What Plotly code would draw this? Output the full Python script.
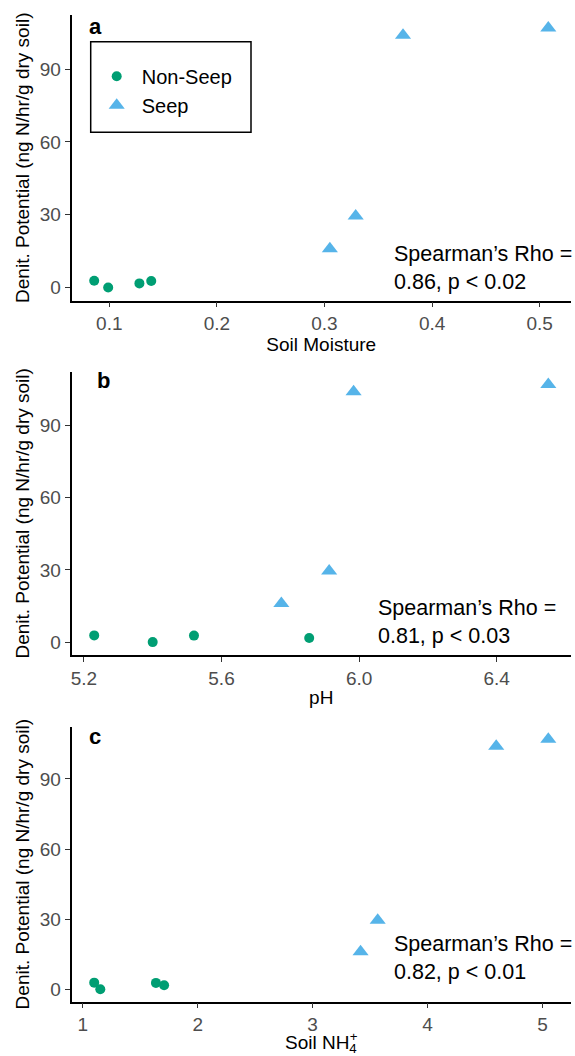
import plotly.graph_objects as go

FONT = "Liberation Sans, Arial, Helvetica, sans-serif"
W, H = 575, 1056

# Denitrification potential (ng N/hr/g dry soil) per site group
denit_nonseep = [2.8, 0.0, 2.7, 1.7]
denit_seep = [16.0, 29.5, 104.0, 107.0]

# Soil properties for the same samples
moisture_nonseep = [0.086, 0.099, 0.139, 0.128]
moisture_seep = [0.305, 0.329, 0.373, 0.508]
ph_nonseep = [5.23, 5.40, 5.52, 5.855]
ph_seep = [5.774, 5.913, 5.984, 6.55]
nh4_nonseep = [1.10, 1.153, 1.637, 1.708]
nh4_seep = [3.417, 3.566, 4.597, 5.05]

group_names = ["Non-Seep", "Seep"]
y_ticks = [0, 30, 60, 90]
x_ticks = [
    [0.1, 0.2, 0.3, 0.4, 0.5],
    [5.2, 5.6, 6.0, 6.4],
    [1, 2, 3, 4, 5],
]
x_tick_labels = [
    ["0.1", "0.2", "0.3", "0.4", "0.5"],
    ["5.2", "5.6", "6.0", "6.4"],
    ["1", "2", "3", "4", "5"],
]
panel_labels = ["a", "b", "c"]
x_titles = [
    "Soil Moisture",
    "pH",
    "Soil NH<sub style=\"letter-spacing:-7px\">4</sub><sup>+</sup>",
]
y_title = "Denit. Potential (ng N/hr/g dry soil)"
rho_texts = [
    "Spearman’s Rho =<br>0.86, p &lt; 0.02",
    "Spearman’s Rho =<br>0.81, p &lt; 0.03",
    "Spearman’s Rho =<br>0.82, p &lt; 0.01",
]

GREEN = "#009E73"
BLUE = "#56B4E9"

panels = [
    (moisture_nonseep, moisture_seep),
    (ph_nonseep, ph_seep),
    (nh4_nonseep, nh4_seep),
]

# panel boxes in pixels: (left, right, top, bottom)
boxes = [
    (71.5, 571, 15, 300.5),
    (71.5, 571, 371.7, 655),
    (71.5, 571, 726.7, 1001.7),
]
letter_pos = [(95, 27), (103.5, 380.5), (95, 736)]
rho_pos = [(392, 268), (376, 621.7), (392, 958.3)]
legend_box = (90.7, 251, 41.7, 132.3)


def padded(vals, frac=0.05):
    lo, hi = min(vals), max(vals)
    pad = (hi - lo) * frac
    return [lo - pad, hi + pad]


fig = go.Figure()
all_y = denit_nonseep + denit_seep
y_range = padded(all_y)

for i, (xn, xs) in enumerate(panels):
    sfx = "" if i == 0 else str(i + 1)
    fig.add_trace(go.Scatter(
        x=xn, y=denit_nonseep, mode="markers", name=group_names[0],
        marker=dict(symbol="circle", size=10, color=GREEN, line=dict(width=0)),
        xaxis="x" + sfx, yaxis="y" + sfx, showlegend=(i == 0),
    ))
    fig.add_trace(go.Scatter(
        x=xs, y=denit_seep, mode="markers", name=group_names[1],
        marker=dict(symbol="triangle-up", size=14, color=BLUE, line=dict(width=0)),
        xaxis="x" + sfx, yaxis="y" + sfx, showlegend=(i == 0),
    ))

axis_common = dict(
    showline=True, linecolor="black", linewidth=1.5,
    ticks="outside", ticklen=5, tickwidth=1.2, tickcolor="#333333",
    tickfont=dict(family=FONT, size=19, color="#4D4D4D"),
    showgrid=False, zeroline=False,
)

lb_left, lb_right, lb_top, lb_bottom = legend_box
layout = dict(
    width=W, height=H,
    margin=dict(l=0, r=0, t=0, b=0),
    paper_bgcolor="white", plot_bgcolor="white",
    font=dict(family=FONT, color="black"),
    showlegend=True,
    legend=dict(
        x=(lb_left + 1) / W, y=1 - (lb_top + 15) / H, xanchor="left", yanchor="top",
        borderwidth=0, bgcolor="rgba(0,0,0,0)", itemwidth=40,
        font=dict(family=FONT, size=20, color="black"),
    ),
    shapes=[dict(
        type="rect", xref="paper", yref="paper",
        x0=lb_left / W, x1=lb_right / W, y0=1 - lb_bottom / H, y1=1 - lb_top / H,
        line=dict(color="black", width=1.5), fillcolor="rgba(0,0,0,0)",
    )],
)

annotations = []
for i, (xn, xs) in enumerate(panels):
    sfx = "" if i == 0 else str(i + 1)
    left, right, top, bottom = boxes[i]
    layout["xaxis" + sfx] = dict(
        axis_common,
        domain=[left / W, right / W],
        anchor="y" + sfx,
        range=padded(xn + xs),
        tickvals=x_ticks[i], ticktext=x_tick_labels[i],
        title=dict(text=x_titles[i], font=dict(family=FONT, size=19, color="black"), standoff=3),
    )
    layout["yaxis" + sfx] = dict(
        axis_common,
        domain=[1 - bottom / H, 1 - top / H],
        anchor="x" + sfx,
        range=y_range,
        tickvals=y_ticks,
        title=dict(text=y_title, font=dict(family=FONT, size=19, color="black"), standoff=5),
    )
    lx, ly = letter_pos[i]
    annotations.append(dict(
        text="<b>%s</b>" % panel_labels[i], x=lx / W, y=1 - ly / H,
        xref="paper", yref="paper", xanchor="center", yanchor="middle",
        showarrow=False, font=dict(family=FONT, size=22, color="black"),
    ))
    rx, ry = rho_pos[i]
    annotations.append(dict(
        text=rho_texts[i], x=rx / W, y=1 - ry / H,
        xref="paper", yref="paper", xanchor="left", yanchor="middle", align="left",
        showarrow=False, font=dict(family=FONT, size=21.5, color="black"),
    ))

layout["annotations"] = annotations
fig.update_layout(**layout)
fig.write_html("out.html")
